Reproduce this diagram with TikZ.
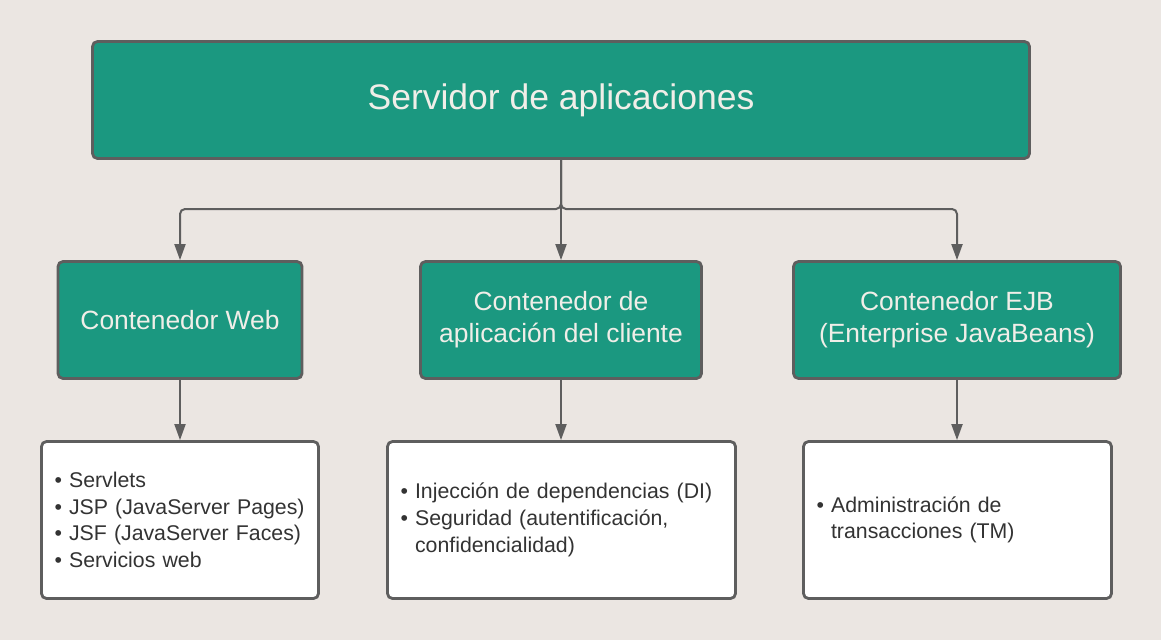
\documentclass[tikz,border=0pt]{standalone}
\usepackage{fontspec}
\setmainfont{Liberation Sans}
\usepackage{tikz}
\usepackage{xcolor}
\usetikzlibrary{positioning,arrows.meta,calc}

\definecolor{bgcol}{HTML}{EBE6E2}
\definecolor{teal}{HTML}{1B9880}
\definecolor{teallight}{HTML}{F0EEE8}
\definecolor{edge}{HTML}{5E5E5E}
\definecolor{ink}{HTML}{333333}

\tikzset{
    box/.style={draw=edge, line width=2.8pt, rounded corners=5pt, fill=teal,
        text=teallight, inner sep=0pt, align=center, minimum height=117pt},
    list/.style={draw=edge, line width=2.8pt, rounded corners=5pt, fill=white,
        text=ink, inner xsep=13pt, inner ysep=0pt, align=left, minimum height=157pt,
        font=\fontsize{21.3}{26.7}\selectfont},
    conn/.style={draw=edge, line width=2pt, rounded corners=5pt,
        -{Triangle[width=11pt,length=16pt]}}
}

\begin{document}
\begin{tikzpicture}[x=1pt, y=-1pt]
    % Background
    \fill[bgcol] (0,0) rectangle (1161,640);
    \useasboundingbox (0,0) rectangle (1161,640);

    % Top box
    \node[box, minimum width=937pt, font=\fontsize{35.5}{42}\selectfont] (srv) at (561,100) {Servidor de aplicaciones};

    % Containers
    \node[box, minimum width=244pt, font=\fontsize{26.4}{32}\selectfont] (web) at (180,320) {Contenedor Web};
    \node[box, minimum width=281pt, font=\fontsize{26.4}{32}\selectfont] (cli) at (561,320) {Contenedor de\\aplicación del cliente};
    \node[box, minimum width=327pt, font=\fontsize{26.4}{32}\selectfont] (ejb) at (957,320) {Contenedor EJB\\(Enterprise JavaBeans)};

    % Lists
    \node[list, text width=251pt] (webl) at (180,520) {%
        \textbullet\ Servlets\\
        \textbullet\ JSP (JavaServer Pages)\\
        \textbullet\ JSF (JavaServer Faces)\\
        \textbullet\ Servicios web};
    \node[list, text width=322pt] (clil) at (561.5,520) {%
        \textbullet\ Injección de dependencias (DI)\\
        \textbullet\ Seguridad (autentificación,\\
        \phantom{\textbullet\ }confidencialidad)};
    \node[list, text width=282pt] (ejbl) at (957.5,520) {%
        \textbullet\ Administración de\\
        \phantom{\textbullet\ }transacciones (TM)};

    % Connectors
    \coordinate (split) at (561,209);
    \draw[conn] (srv.south) -- (split) -| (web.north);
    \draw[conn] (srv.south) -- (cli.north);
    \draw[conn] (srv.south) -- (split) -| (ejb.north);

    \draw[conn] (web.south) -- (web.south |- webl.north);
    \draw[conn] (cli.south) -- (cli.south |- clil.north);
    \draw[conn] (ejb.south) -- (ejb.south |- ejbl.north);
\end{tikzpicture}
\end{document}
